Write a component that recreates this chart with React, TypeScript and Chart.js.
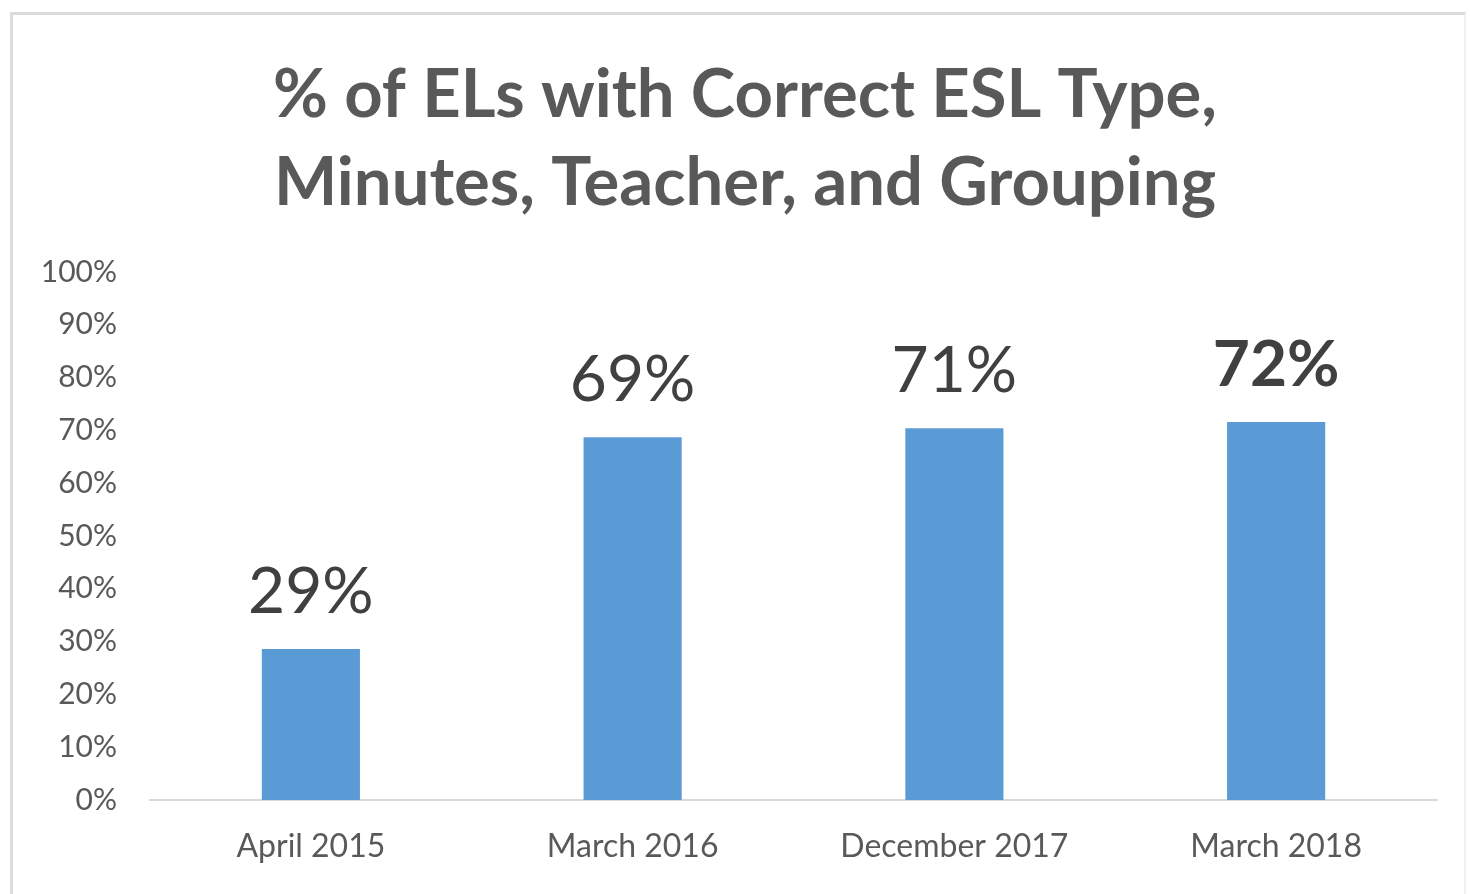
import React, { useEffect, useRef } from "react";
import { Chart, registerables } from "chart.js";

Chart.register(...registerables);

const categories = ["April 2015", "March 2016", "December 2017", "March 2018"];
const values = [28.6, 68.7, 70.4, 71.6];
const valueLabels = ["29%", "69%", "71%", "72%"];
const boldLabel = [false, false, false, true];
const titleLines = ["% of ELs with Correct ESL Type,", "Minutes, Teacher, and Grouping"];

const FONT = "Lato, 'Open Sans', sans-serif";

const dataLabelPlugin = {
  id: "dataLabels",
  afterDatasetsDraw(chart: any) {
    const ctx = chart.ctx;
    const meta = chart.getDatasetMeta(0);
    ctx.save();
    ctx.textAlign = "center";
    ctx.textBaseline = "alphabetic";
    meta.data.forEach((bar: any, i: number) => {
      ctx.font = `${boldLabel[i] ? "bold " : ""}64px ${FONT}`;
      ctx.fillStyle = "#404040";
      ctx.fillText(valueLabels[i], bar.x, bar.y - 36);
    });
    ctx.restore();
  },
};

const titlePlugin = {
  id: "titleText",
  afterDraw(chart: any) {
    const ctx = chart.ctx;
    ctx.save();
    ctx.textAlign = "center";
    ctx.textBaseline = "middle";
    ctx.font = `bold 67px ${FONT}`;
    ctx.fillStyle = "#595959";
    titleLines.forEach((line, i) => {
      ctx.fillText(line, 745, 95 + i * 88);
    });
    ctx.restore();
  },
};

export default function App() {
  const ref = useRef<HTMLCanvasElement>(null);
  useEffect(() => {
    document.body.style.margin = "0";
    const chart = new Chart(ref.current!, {
      type: "bar",
      data: {
        labels: categories,
        datasets: [
          {
            data: values,
            backgroundColor: "#5B9BD5",
            categoryPercentage: 1,
            barPercentage: 0.305,
          },
        ],
      },
      options: {
        animation: false,
        responsive: false,
        layout: { padding: { left: 0, right: 33, top: 272, bottom: 0 } },
        plugins: {
          legend: { display: false },
          tooltip: { enabled: false },
          title: { display: false },
        },
        scales: {
          y: {
            min: 0,
            max: 100,
            ticks: {
              stepSize: 10,
              callback: (v: any) => v + "%",
              color: "#595959",
              font: { family: FONT, size: 30 },
              padding: 33,
            },
            grid: { display: false, drawTicks: false },
            border: { display: false },
            afterFit: (s: any) => {
              s.width = 150;
            },
          },
          x: {
            ticks: {
              color: "#595959",
              font: { family: FONT, size: 32 },
              padding: 27,
            },
            grid: { display: false, drawTicks: false },
            border: { display: true, color: "#d9d9d9", width: 2 },
            afterFit: (s: any) => {
              s.height = 94;
            },
          },
        },
      },
      plugins: [dataLabelPlugin, titlePlugin],
    });
    return () => chart.destroy();
  }, []);
  return (
    <div style={{ position: "relative", width: 1470, height: 894, background: "#fff", overflow: "hidden" }}>
      <div
        style={{
          position: "absolute",
          left: 10,
          top: 12,
          width: 1456,
          height: 900,
          borderTop: "3px solid #dcdcdc",
          borderLeft: "3px solid #dcdcdc",
          borderRight: "2px solid #f0f0f0",
          boxSizing: "border-box",
        }}
      />
      <canvas ref={ref} width={1470} height={894} style={{ position: "absolute", left: 0, top: 0 }} />
    </div>
  );
}
